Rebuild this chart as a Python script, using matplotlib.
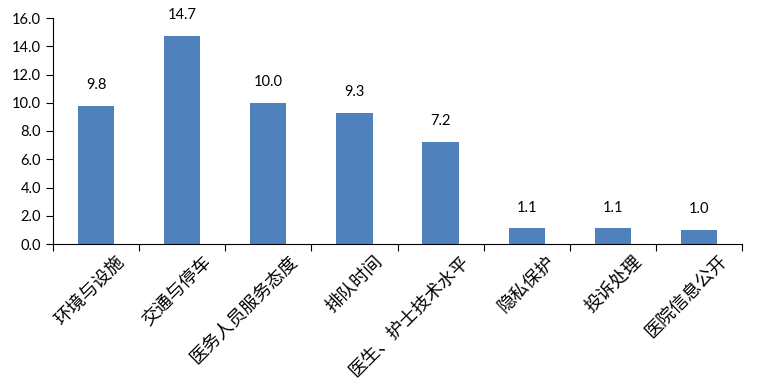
import numpy as np
import matplotlib.pyplot as plt
from matplotlib.transforms import ScaledTranslation

plt.rcParams['font.family'] = ['Lato', 'Noto Sans CJK SC', 'DejaVu Sans']

categories = ['环境与设施', '交通与停车', '医务人员服务态度', '排队时间',
              '医生、护士技术水平', '隐私保护', '投诉处理', '医院信息公开']
values = [9.8, 14.7, 10.0, 9.3, 7.2, 1.1, 1.1, 1.0]
yticks = [0, 2, 4, 6, 8, 10, 12, 14, 16]

fig = plt.figure(figsize=(7.6, 3.92), dpi=100)
ax = fig.add_axes([53 / 760, 148 / 392, 689 / 760, 226 / 392])

x = np.arange(len(categories))
bars = ax.bar(x, values, width=0.42, color='#4f81bd')

for xi, v in zip(x, values):
    ax.annotate(f'{v:.1f}', (xi, v), xytext=(0, 10), textcoords='offset points',
                ha='center', va='bottom', fontsize=10.5)

ax.set_xlim(-0.5, len(categories) - 0.5)
ax.set_ylim(0, 16)
ax.set_yticks(yticks)
ax.set_yticklabels([f'{t:.1f}' for t in yticks], fontsize=10.5)

# tick marks between categories, labels at centres
ax.set_xticks(np.arange(-0.5, len(categories)), minor=False)
ax.set_xticklabels([])
ax.set_xticks(x, minor=True)
ax.set_xticklabels(categories, minor=True, rotation=45, ha='right', va='top',
                   rotation_mode='anchor', fontsize=13,
                   family=['Noto Sans CJK SC', 'DejaVu Sans'])
ax.tick_params(axis='x', which='minor', length=0, pad=0)
ax.tick_params(axis='x', which='major', length=5, direction='out')
ax.tick_params(axis='y', length=5, direction='out')
offset = ScaledTranslation(14 / 72, -6 / 72, fig.dpi_scale_trans)
for lbl in ax.get_xticklabels(minor=True):
    lbl.set_transform(lbl.get_transform() + offset)

ax.spines['top'].set_visible(False)
ax.spines['right'].set_visible(False)

fig.savefig('out.png', dpi=100)
